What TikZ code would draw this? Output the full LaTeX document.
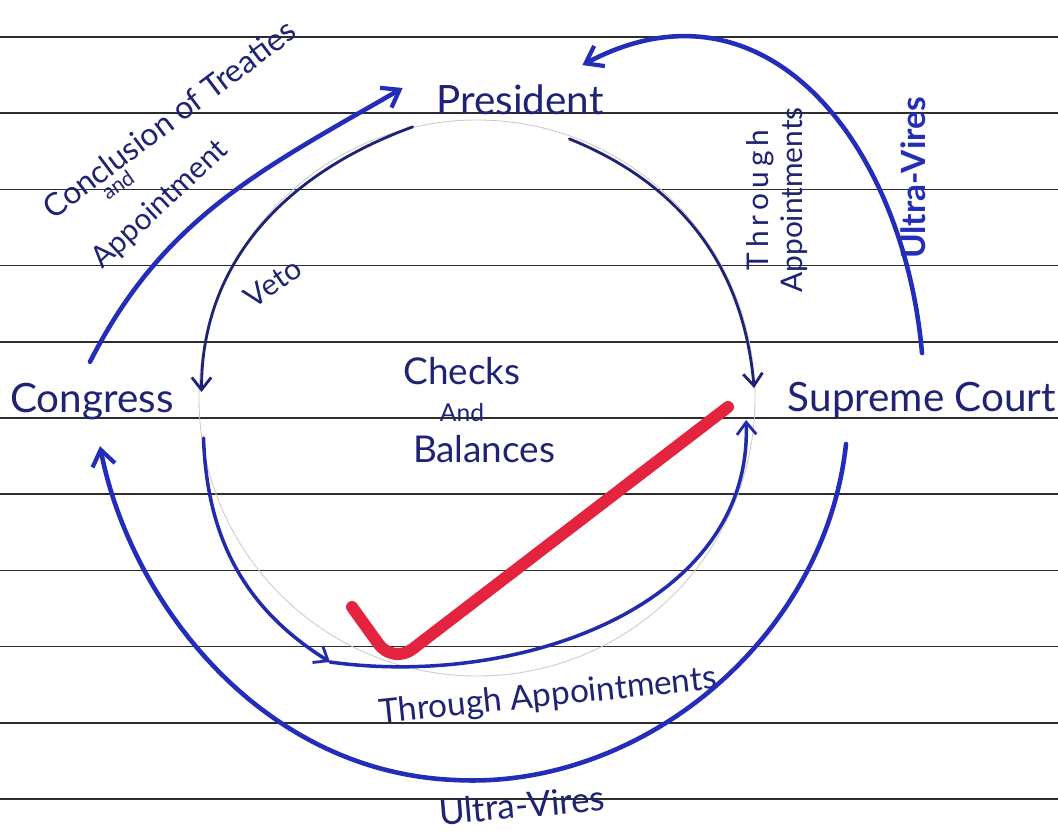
\documentclass[tikz,border=0pt]{standalone}
\usepackage{fontspec}
\setmainfont{Lato}
\usetikzlibrary{arrows.meta, positioning, calc}
\definecolor{inkblue}{RGB}{35, 45, 185}
\definecolor{inknavy}{RGB}{30, 35, 115}
\definecolor{checkred}{RGB}{228, 35, 62}
\definecolor{ruleline}{RGB}{45, 45, 45}

\begin{document}
\begin{tikzpicture}[x=0.02cm, y=-0.02cm,
        body/.style={text=inknavy, font=\fontsize{23}{25}\selectfont, inner sep=2pt},
        note/.style={text=inknavy, font=\fontsize{17}{19}\selectfont, inner sep=0pt},
        bold arrow/.style={draw=inkblue, line width=2.6pt, line cap=round,
            -{Straight Barb[length=9pt, width=13pt, line width=2.4pt]}},
        thin arrow/.style={draw=inknavy, line width=1.6pt, line cap=round,
            -{Straight Barb[length=7pt, width=11pt, line width=1.6pt]}}]

        % paper
        \fill[white] (0,0) rectangle (1058,832);
        \useasboundingbox (0,0) rectangle (1058,832);
        \foreach \k in {0,...,10}
            \draw[ruleline, line width=0.9pt] (0,{37+76.2*\k}) -- (1058,{37+76.2*\k});
        \draw[gray!40, line width=0.5pt] (477,398) circle [radius=278]; % pencil guide

        % branches
        \node[body] (pres) at (520,100) {President};
        \node[body] (cong) at (92,402) {Congress};
        \node[body] (sc) at (922,400) {Supreme Court};
        \node[body, align=center, font=\fontsize{21}{27}\selectfont] (cb) at (462,410)
            {Checks\\[-6pt]{\fontsize{14}{14}\selectfont And}\\[-4pt]\hspace*{1.2em}Balances};

        % labels
        \node[note, anchor=base, rotate=37, font=\fontsize{18}{20}\selectfont] (treaty) at (176,128) {Conclusion of Treaties};
        \node[note, anchor=base, rotate=35, font=\fontsize{12}{13}\selectfont] (and) at (122,191) {and};
        \node[note, anchor=base, rotate=43] (appt) at (166,211) {Appointment};
        \node[note, rotate=35] (veto) at (273,283) {Veto};
        \node[note, rotate=90, align=center] (thr) at (777,200) {T\,h\,r\,o\,u\,g\,h\\Appointments};
        \node[note, rotate=90, text=inkblue, font=\bfseries\fontsize{19}{20}\selectfont] (uvr) at (913,178) {Ultra-Vires};
        \node[note, rotate=6, font=\fontsize{19}{21}\selectfont] (thb) at (548,697) {Through Appointments};
        \node[note, rotate=5, font=\fontsize{20}{22}\selectfont] (uvb) at (522,805) {Ultra-Vires};

        % connectors
        \draw[bold arrow] ($(cong.north)+(-2,-18)$) to[out=63, in=210] ($(pres.west)+(-30,-12)$);
        \draw[thin arrow] ($(pres.south west)+(-20,8)$) to[out=200, in=90] ($(cong.east)+(24,-10)$);
        \draw[thin arrow] ($(pres.south east)+(-38,20)$) to[out=-22, in=95] ($(sc.west)+(-30,-12)$);
        \draw[bold arrow] ($(sc.north)+(0,-25)$) to[out=95, in=28, looseness=1.2] ($(pres.north east)+(-25,-16)$);
        \coordinate (low) at (330,662);
        \draw[thin arrow, draw=inkblue!80!inknavy, line width=2pt] ($(cong.east)+(26,36)$) to[out=-88, in=148] (low);
        \draw[thin arrow, draw=inkblue!80!inknavy, line width=2pt] (low) to[out=-8, in=-88] ($(sc.west)+(-38,20)$);
        \draw[bold arrow] ($(sc.south)+(-76,22)$) .. controls (825,640) and (640,790) .. (455,780)
            .. controls (260,772) and (130,600) .. ($(cong.south)+(8,22)$);

        % tick mark
        \draw[checkred, line width=6.8pt, line cap=round, line join=round, rounded corners=14pt]
            (352,607) -- (393,664) -- (728,407);
    \end{tikzpicture}
\end{document}
